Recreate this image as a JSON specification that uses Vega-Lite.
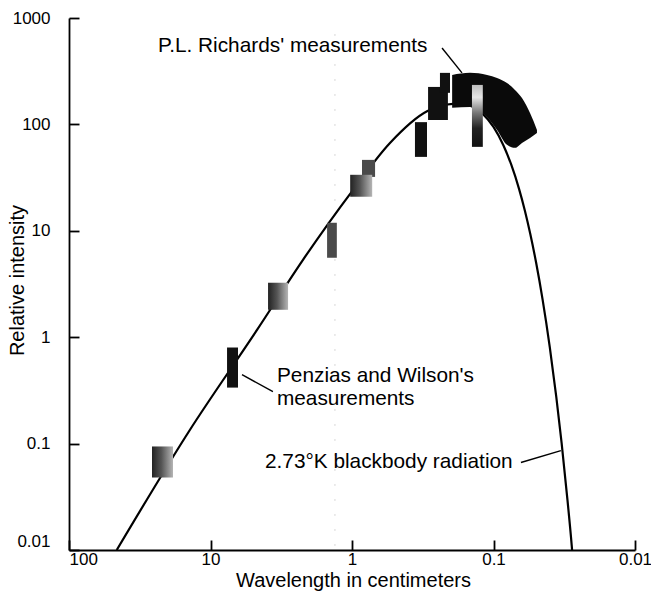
{
  "$schema": "https://vega.github.io/schema/vega-lite/v6.json",
  "width": 566,
  "height": 532,
  "autosize": {"type": "none"},
  "padding": {"left": 69, "top": 18, "right": 16, "bottom": 41},
  "background": "white",
  "config": {
    "view": {"stroke": null},
    "font": "Liberation Sans",
    "axis": {
      "grid": false,
      "domainColor": "black",
      "domainWidth": 1.8,
      "tickColor": "black",
      "tickWidth": 1.8,
      "tickSize": -10,
      "labelColor": "black",
      "labelFont": "Liberation Sans",
      "labelFontSize": 17,
      "titleColor": "black",
      "titleFont": "Liberation Sans",
      "titleFontSize": 20,
      "titleFontWeight": "normal"
    }
  },
  "datasets": {
    "curve": [
      {"lam": 46, "i": 0.01},
      {"lam": 13.96, "i": 0.135},
      {"lam": 4.69, "i": 1.17},
      {"lam": 2.22, "i": 5.34},
      {"lam": 1.0, "i": 23.5},
      {"lam": 0.539, "i": 67},
      {"lam": 0.295, "i": 133},
      {"lam": 0.22, "i": 153},
      {"lam": 0.17, "i": 157},
      {"lam": 0.15, "i": 152},
      {"lam": 0.12, "i": 127},
      {"lam": 0.1, "i": 94.6},
      {"lam": 0.085, "i": 63.4},
      {"lam": 0.075, "i": 42.0},
      {"lam": 0.066, "i": 24.8},
      {"lam": 0.06, "i": 15.45},
      {"lam": 0.055, "i": 9.39},
      {"lam": 0.05, "i": 5.03},
      {"lam": 0.045, "i": 2.27},
      {"lam": 0.04, "i": 0.803},
      {"lam": 0.036, "i": 0.275},
      {"lam": 0.033, "i": 0.101},
      {"lam": 0.03, "i": 0.0294},
      {"lam": 0.028, "i": 0.011},
      {"lam": 0.0278, "i": 0.0098}
    ],
    "band": [
      {"lam": 0.196, "top": 292, "bot": 143},
      {"lam": 0.1466, "top": 305, "bot": 146},
      {"lam": 0.111, "top": 292, "bot": 117},
      {"lam": 0.0944, "top": 273, "bot": 88.8},
      {"lam": 0.0803, "top": 245, "bot": 64.3},
      {"lam": 0.0705, "top": 211, "bot": 60.2},
      {"lam": 0.0629, "top": 177, "bot": 67},
      {"lam": 0.0552, "top": 128, "bot": 74.6},
      {"lam": 0.0493, "top": 88.8, "bot": 83.2}
    ],
    "darkBars": [
      {"l1": 7.64, "l2": 6.39, "i1": 0.80, "i2": 0.336},
      {"l1": 0.359, "l2": 0.295, "i1": 105, "i2": 49.5},
      {"l1": 0.29, "l2": 0.21, "i1": 225, "i2": 110},
      {"l1": 0.239, "l2": 0.203, "i1": 305, "i2": 198}
    ],
    "grayBars": [
      {"l1": 1.50, "l2": 1.28, "i1": 11.9, "i2": 5.58},
      {"l1": 0.85, "l2": 0.687, "i1": 46.4, "i2": 32.1}
    ],
    "fadeBars": [
      {"l1": 25.9, "l2": 18.4, "i1": 0.094, "i2": 0.048},
      {"l1": 3.92, "l2": 2.83, "i1": 3.25, "i2": 1.81},
      {"l1": 1.03, "l2": 0.72, "i1": 33.6, "i2": 20.9}
    ],
    "vertBars": [
      {"l1": 0.142, "l2": 0.119, "i1": 235, "i2": 61.5}
    ],
    "leaders": [
      {"l1": 0.231, "l2": 0.167, "i1": 523, "i2": 305},
      {"l1": 5.99, "l2": 3.62, "i1": 0.444, "i2": 0.308},
      {"l1": 0.064, "l2": 0.0334, "i1": 0.0664, "i2": 0.0859}
    ],
    "labels": [
      {"lam": 23.5, "i": 545, "text": "P.L. Richards' measurements"},
      {"lam": 3.39, "i": 0.435, "text": "Penzias and Wilson's"},
      {"lam": 3.39, "i": 0.265, "text": "measurements"},
      {"lam": 4.12, "i": 0.0678, "text": "2.73°K blackbody radiation"}
    ],
    "artifact": [
      {"lam": 1.32, "i1": 700, "i2": 0.01}
    ]
  },
  "layer": [
    {
      "data": {"name": "artifact"},
      "mark": {"type": "rule", "color": "#b0b0b0", "strokeWidth": 1, "strokeDash": [1, 14]},
      "encoding": {
        "x": {"field": "lam", "type": "quantitative", "scale": {"type": "log", "domain": [0.01, 100], "reverse": true},
          "axis": {"values": [100, 10, 1, 0.1, 0.01], "format": "~g", "labelPadding": 11,
            "labelAlign": {"condition": {"test": "datum.value == 100", "value": "left"}, "value": "center"},
            "title": "Wavelength in centimeters", "titleX": 284, "titleY": 30, "titleBaseline": "middle", "titleAlign": "center"}},
        "y": {"field": "i1", "type": "quantitative", "scale": {"type": "log", "domain": [0.01, 1000]},
          "axis": {"values": [0.01, 0.1, 1, 10, 100, 1000], "format": "~g", "labelPadding": 29,
            "labelBaseline": {"condition": {"test": "datum.value == 0.01", "value": "bottom"}, "value": "middle"},
            "title": "Relative intensity", "titleX": -52, "titleY": 262, "titleAngle": -90, "titleBaseline": "middle", "titleAlign": "center"}},
        "y2": {"field": "i2"}
      }
    },
    {
      "data": {"name": "curve"},
      "mark": {"type": "line", "color": "black", "strokeWidth": 2.2, "interpolate": "monotone", "clip": true},
      "encoding": {
        "x": {"field": "lam", "type": "quantitative"},
        "y": {"field": "i", "type": "quantitative"}
      }
    },
    {
      "data": {"name": "band"},
      "mark": {"type": "area", "color": "#0a0a0a", "interpolate": "monotone", "opacity": 1},
      "encoding": {
        "x": {"field": "lam", "type": "quantitative"},
        "y": {"field": "top", "type": "quantitative"},
        "y2": {"field": "bot"}
      }
    },
    {
      "data": {"name": "darkBars"},
      "mark": {"type": "rect", "color": "#111111"},
      "encoding": {
        "x": {"field": "l1", "type": "quantitative"},
        "x2": {"field": "l2"},
        "y": {"field": "i1", "type": "quantitative"},
        "y2": {"field": "i2"}
      }
    },
    {
      "data": {"name": "grayBars"},
      "mark": {"type": "rect", "color": "#4a4a4a"},
      "encoding": {
        "x": {"field": "l1", "type": "quantitative"},
        "x2": {"field": "l2"},
        "y": {"field": "i1", "type": "quantitative"},
        "y2": {"field": "i2"}
      }
    },
    {
      "data": {"name": "fadeBars"},
      "mark": {"type": "rect", "color": {"gradient": "linear", "x1": 0, "y1": 0, "x2": 1, "y2": 0,
        "stops": [{"offset": 0, "color": "#222222"}, {"offset": 0.45, "color": "#555555"}, {"offset": 1, "color": "#b5b5b5"}]}},
      "encoding": {
        "x": {"field": "l1", "type": "quantitative"},
        "x2": {"field": "l2"},
        "y": {"field": "i1", "type": "quantitative"},
        "y2": {"field": "i2"}
      }
    },
    {
      "data": {"name": "vertBars"},
      "mark": {"type": "rect", "color": {"gradient": "linear", "x1": 0, "y1": 0, "x2": 0, "y2": 1,
        "stops": [{"offset": 0, "color": "#bdbdbd"}, {"offset": 0.2, "color": "#e6e6e6"}, {"offset": 0.45, "color": "#777777"}, {"offset": 0.7, "color": "#222222"}, {"offset": 1, "color": "#111111"}]}},
      "encoding": {
        "x": {"field": "l1", "type": "quantitative"},
        "x2": {"field": "l2"},
        "y": {"field": "i1", "type": "quantitative"},
        "y2": {"field": "i2"}
      }
    },
    {
      "data": {"name": "leaders"},
      "mark": {"type": "rule", "color": "black", "strokeWidth": 1.4},
      "encoding": {
        "x": {"field": "l1", "type": "quantitative"},
        "x2": {"field": "l2"},
        "y": {"field": "i1", "type": "quantitative"},
        "y2": {"field": "i2"}
      }
    },
    {
      "data": {"name": "labels"},
      "mark": {"type": "text", "align": "left", "baseline": "middle", "font": "Liberation Sans", "fontSize": 20.8, "color": "black"},
      "encoding": {
        "x": {"field": "lam", "type": "quantitative"},
        "y": {"field": "i", "type": "quantitative"},
        "text": {"field": "text"}
      }
    }
  ]
}
